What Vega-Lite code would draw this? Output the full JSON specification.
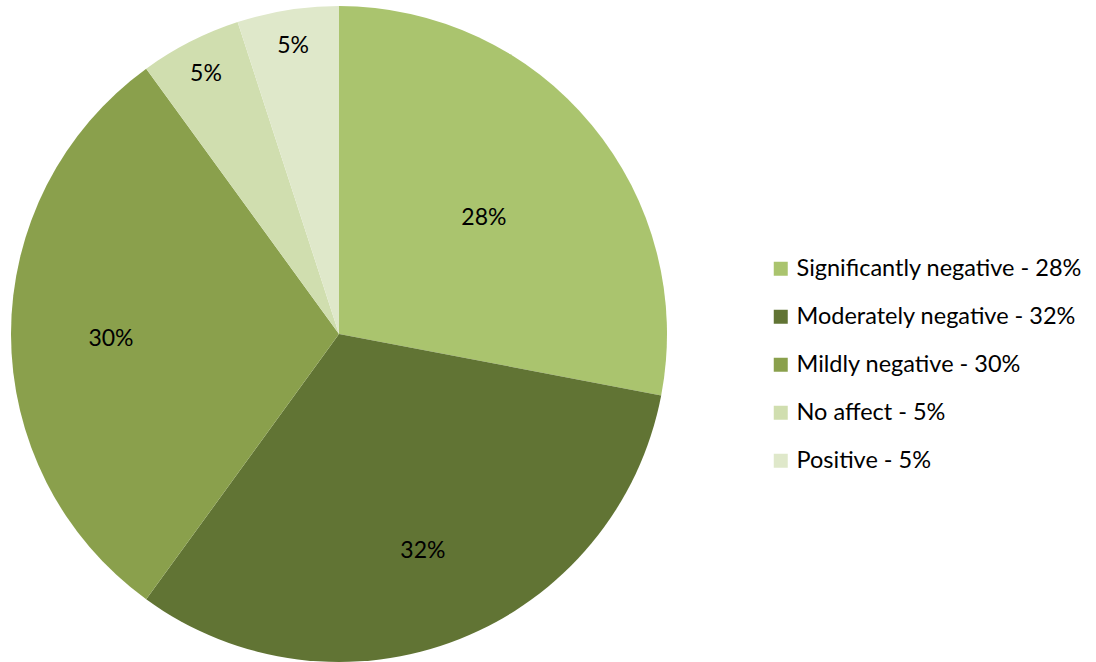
{
  "$schema": "https://vega.github.io/schema/vega-lite/v6.json",
  "width": 678,
  "height": 668,
  "padding": 0,
  "autosize": {"type": "pad"},
  "background": "white",
  "config": {"view": {"stroke": null}, "font": "Lato"},
  "data": {"values": [
    {"category": "Significantly negative", "legend": "Significantly negative - 28%", "value": 28, "label": "28%", "order": 1},
    {"category": "Moderately negative", "legend": "Moderately negative - 32%", "value": 32, "label": "32%", "order": 2},
    {"category": "Mildly negative", "legend": "Mildly negative - 30%", "value": 30, "label": "30%", "order": 3},
    {"category": "No affect", "legend": "No affect - 5%", "value": 5, "label": "5%", "order": 4},
    {"category": "Positive", "legend": "Positive - 5%", "value": 5, "label": "5%", "order": 5}
  ]},
  "encoding": {
    "theta": {"field": "value", "type": "quantitative", "stack": true},
    "order": {"field": "order", "type": "quantitative"}
  },
  "layer": [
    {
      "mark": {"type": "arc", "outerRadius": 328},
      "encoding": {
        "color": {
          "field": "legend", "type": "nominal",
          "scale": {
            "domain": ["Significantly negative - 28%", "Moderately negative - 32%", "Mildly negative - 30%", "No affect - 5%", "Positive - 5%"],
            "range": ["#AAC46E", "#617434", "#8AA04C", "#D0DEAF", "#DFE8CA"]
          },
          "legend": {
            "title": null,
            "orient": "none",
            "legendX": 769,
            "legendY": 257,
            "symbolType": "square",
            "symbolSize": 196,
            "symbolStrokeWidth": 0,
            "labelFontSize": 23.5,
            "labelFont": "Lato",
            "labelColor": "#000000",
            "labelOffset": 4,
            "rowPadding": 23,
            "labelLimit": 400
          }
        }
      }
    },
    {
      "mark": {"type": "text", "radius": 188, "dy": 4, "fontSize": 23, "color": "#000000"},
      "encoding": {
        "detail": {"field": "legend", "type": "nominal"},
        "text": {"condition": {"test": "datum.category === 'Significantly negative'", "field": "label"}, "value": ""}
      }
    },
    {
      "mark": {"type": "text", "radius": 228, "dy": 5, "fontSize": 23, "color": "#000000"},
      "encoding": {
        "detail": {"field": "legend", "type": "nominal"},
        "text": {"condition": {"test": "datum.category === 'Moderately negative' || datum.category === 'Mildly negative'", "field": "label"}, "value": ""}
      }
    },
    {
      "mark": {"type": "text", "radius": 293, "dy": 1, "fontSize": 23, "color": "#000000"},
      "encoding": {
        "detail": {"field": "legend", "type": "nominal"},
        "text": {"condition": {"test": "datum.value < 10", "field": "label"}, "value": ""}
      }
    }
  ]
}
